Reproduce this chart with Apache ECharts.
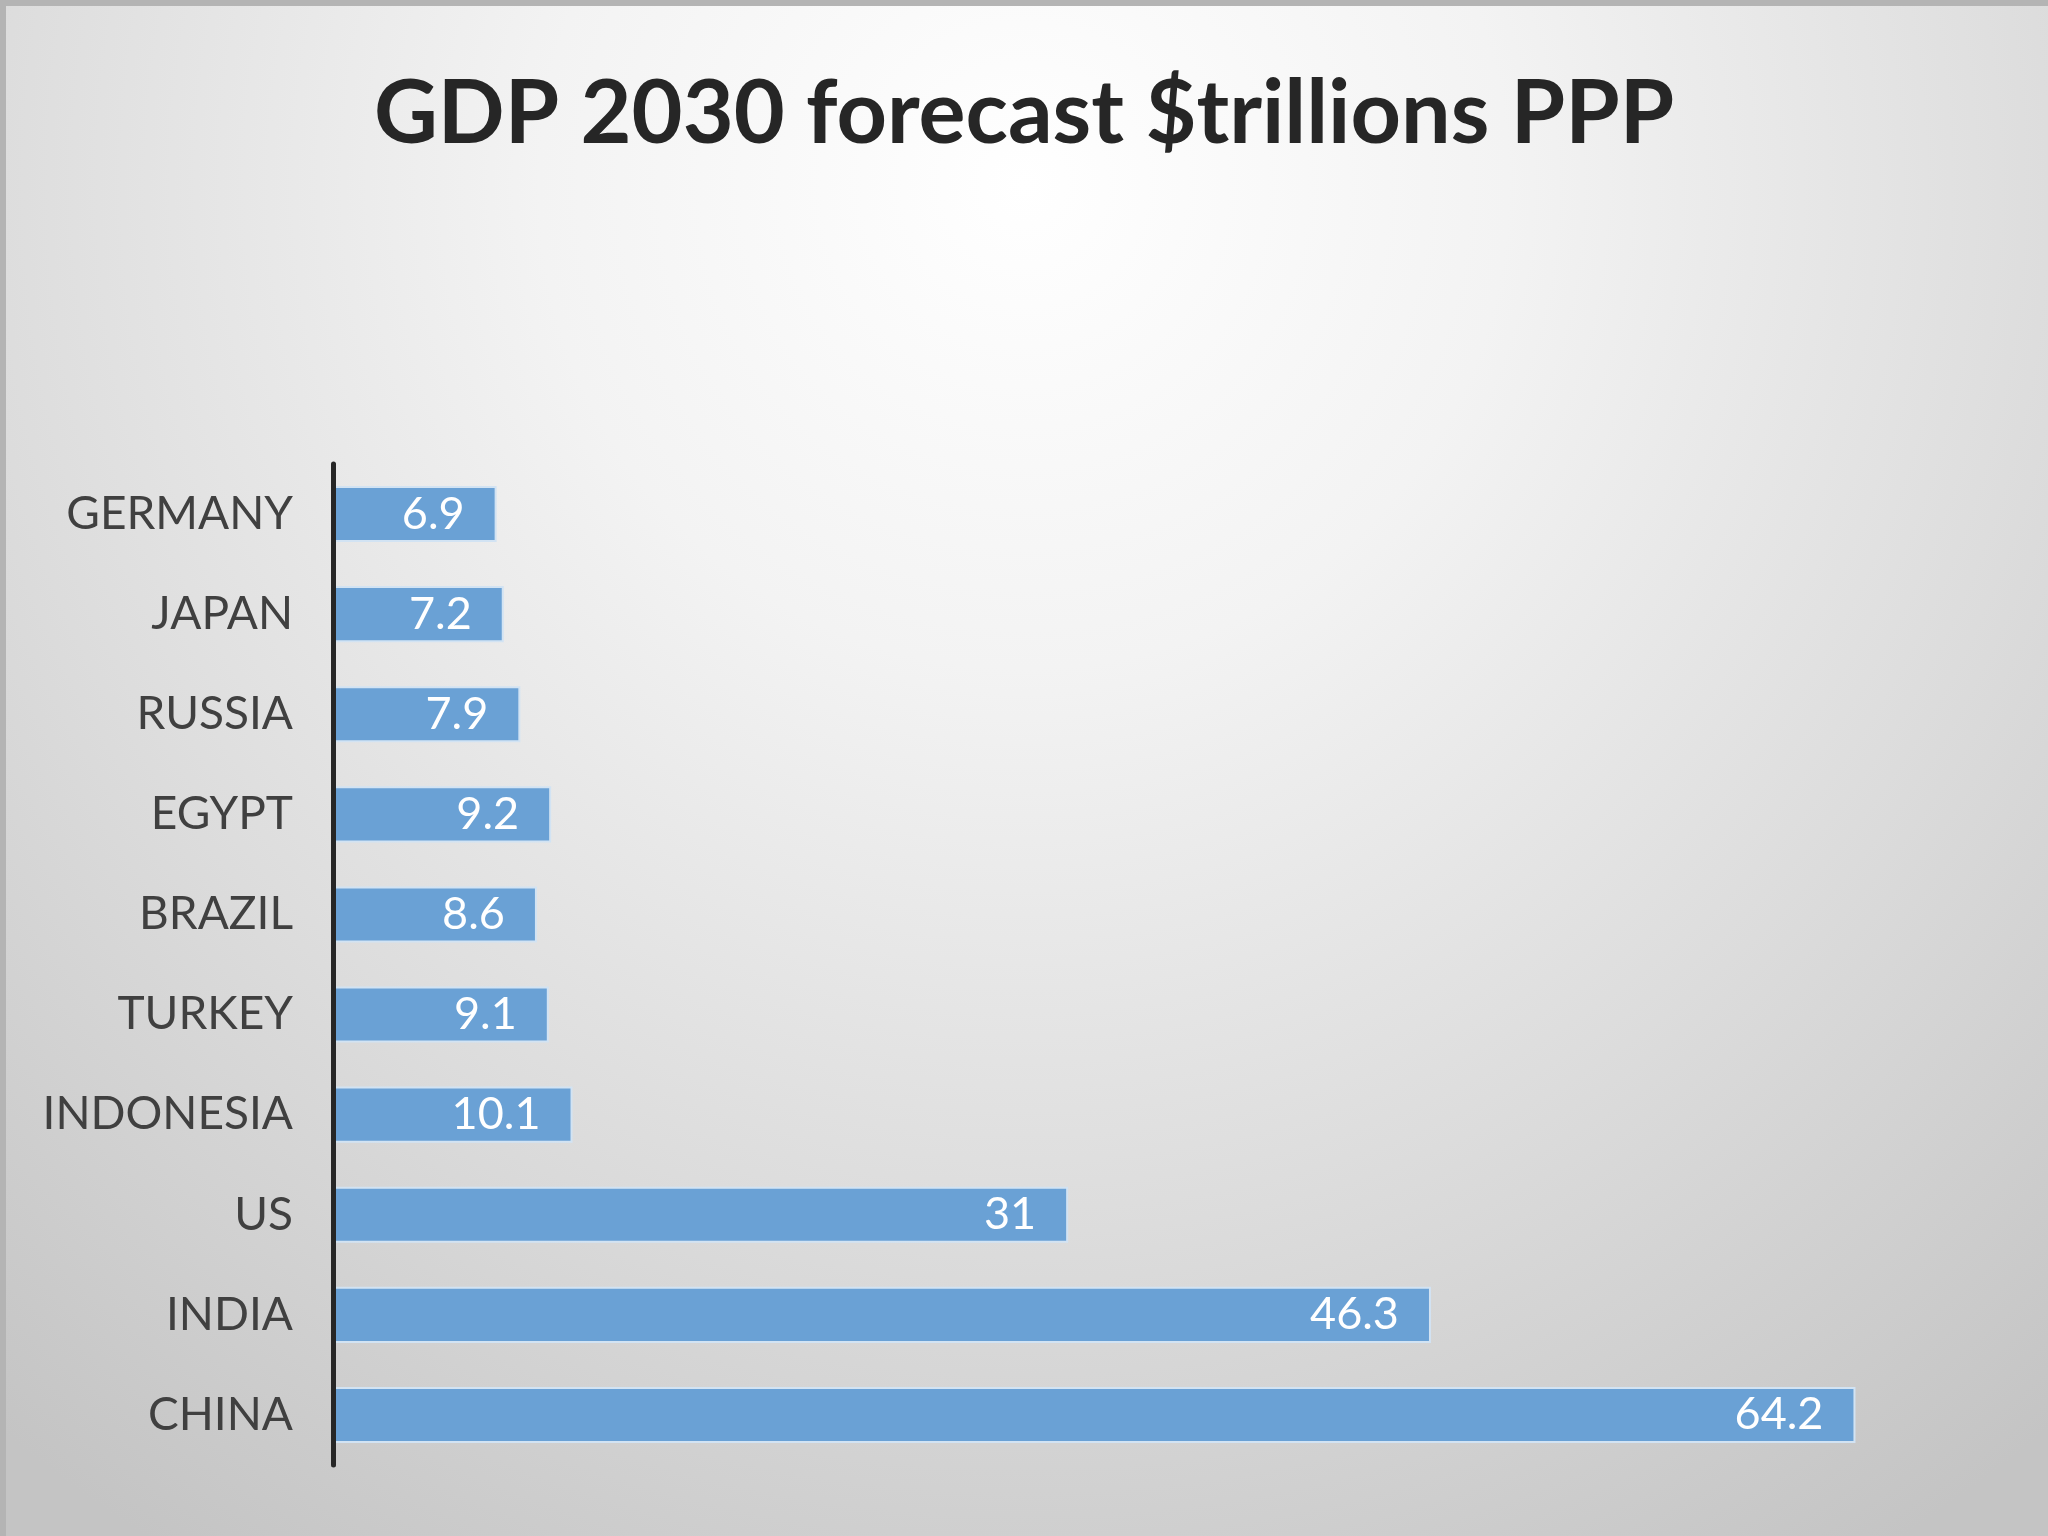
<!DOCTYPE html>
<html>
<head>
<meta charset="utf-8">
<script src="https://cdn.jsdelivr.net/npm/echarts@6/dist/echarts.min.js"></script>
<style>
  html, body { margin: 0; padding: 0; background: #d8d8d8; }
  #chart { width: 2048px; height: 1536px; }
</style>
</head>
<body>
<div id="chart"></div>
<script>
const titleText = 'GDP 2030 forecast $trillions PPP';
const categories = ['CHINA', 'INDIA', 'US', 'INDONESIA', 'TURKEY', 'BRAZIL', 'EGYPT', 'RUSSIA', 'JAPAN', 'GERMANY'];
const gdpValues = [64.2, 46.3, 31, 10.1, 9.1, 8.6, 9.2, 7.9, 7.2, 6.9];

const FONT = "Lato, 'Open Sans', sans-serif";

const chart = echarts.init(document.getElementById('chart'), null, { renderer: 'canvas' });
chart.setOption({
  animation: false,
  backgroundColor: {
    type: 'radial', x: 0.5, y: 0.12, r: 1.05,
    colorStops: [
      { offset: 0, color: '#ffffff' },
      { offset: 0.3, color: '#f3f3f3' },
      { offset: 0.65, color: '#dcdcdc' },
      { offset: 1, color: '#c4c4c4' }
    ]
  },
  graphic: [{
    type: 'rect', left: 0, top: 0,
    shape: { x: 0, y: 0, width: 2048, height: 1536 },
    style: { fill: 'none', stroke: '#b4b4b4', lineWidth: 6 },
    silent: true
  }],
  title: {
    text: titleText,
    left: 'center',
    top: 66,
    textStyle: { fontFamily: FONT, fontSize: 88, fontWeight: 'bold', color: '#262626' }
  },
  grid: { left: 333, top: 464, width: 1660, height: 1001, containLabel: false },
  xAxis: {
    type: 'value', min: 0, max: 70,
    show: false,
    splitLine: { show: false }
  },
  yAxis: {
    type: 'category',
    data: categories,
    z: 5,
    axisLine: { show: true, lineStyle: { color: '#262626', width: 5 } },
    axisTick: { show: false },
    axisLabel: { fontFamily: FONT, fontSize: 46, color: '#404040', margin: 40 }
  },
  series: [{
    type: 'bar',
    data: gdpValues,
    barCategoryGap: '44%',
    itemStyle: { color: '#6aa1d5', borderColor: '#d2e3f3', borderWidth: 2 },
    label: {
      show: true, position: 'insideRight', distance: 32,
      fontFamily: FONT, fontSize: 45, color: '#ffffff'
    }
  }]
});
</script>
</body>
</html>
